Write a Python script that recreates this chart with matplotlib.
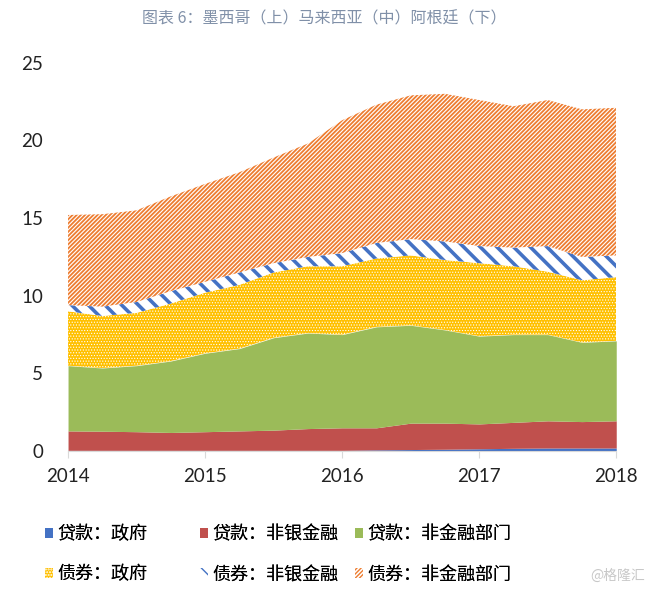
import numpy as np
import matplotlib
matplotlib.use("Agg")
import matplotlib.pyplot as plt
from matplotlib.patches import Patch

plt.rcParams['font.family'] = ['Lato', 'Noto Sans CJK SC', 'DejaVu Sans']

# quarterly points, 2014Q1 .. 2018Q1
x = 2014 + 0.25 * np.arange(17)

loan_gov = [0.05, 0.05, 0.05, 0.05, 0.05, 0.05, 0.05, 0.05, 0.05,
            0.08, 0.10, 0.12, 0.15, 0.18, 0.20, 0.20, 0.20]
loan_nbfi = [1.25, 1.23, 1.20, 1.15, 1.20, 1.25, 1.30, 1.40, 1.45,
             1.42, 1.70, 1.68, 1.60, 1.67, 1.75, 1.70, 1.75]
loan_nfc = [4.20, 4.07, 4.25, 4.60, 5.05, 5.30, 5.95, 6.15, 6.00,
            6.50, 6.30, 6.00, 5.65, 5.65, 5.55, 5.10, 5.15]
bond_gov = [3.50, 3.35, 3.40, 3.70, 3.90, 4.10, 4.20, 4.30, 4.40,
            4.40, 4.50, 4.50, 4.70, 4.40, 4.05, 4.00, 4.10]
bond_nbfi = [0.40, 0.60, 0.70, 0.80, 0.70, 0.80, 0.60, 0.60, 0.85,
             1.00, 1.05, 1.20, 1.10, 1.20, 1.65, 1.50, 1.40]
bond_nfc = [5.80, 5.95, 5.90, 6.10, 6.30, 6.45, 6.80, 7.30, 8.55,
            8.90, 9.25, 9.50, 9.40, 9.10, 9.40, 9.50, 9.50]

labels = ['贷款：政府', '贷款：非银金融', '贷款：非金融部门',
          '债券：政府', '债券：非银金融', '债券：非金融部门']
title = '图表 6：墨西哥（上）马来西亚（中）阿根廷（下）'

# (face, hatch colour, hatch, hatch linewidth)
styles = [
    ('#4472C4', '#4472C4', None, 1.0),
    ('#C0504D', '#C0504D', None, 1.0),
    ('#9BBB59', '#9BBB59', None, 1.0),
    ('#FFC000', 'white', '......', 0.5),
    ('white', '#4472C4', '\\\\', 2.6),
    ('white', '#ED7D31', '////////', 1.3),
]

fig = plt.figure(figsize=(6.48, 5.92), dpi=100)
ax = fig.add_axes([0.105, 0.238, 0.846, 0.656])

series = [loan_gov, loan_nbfi, loan_nfc, bond_gov, bond_nbfi, bond_nfc]
tops = np.cumsum(np.array(series), axis=0)
bottom = np.zeros(len(x))
handles = []
for top, (fc, hc, hatch, hlw), lab in zip(tops, styles, labels):
    with plt.rc_context({'hatch.linewidth': hlw}):
        coll = ax.fill_between(x, bottom, top, facecolor=fc, edgecolor=hc,
                               hatch=hatch, linewidth=0)
        if hasattr(coll, 'set_hatch_linewidth'):
            coll.set_hatch_linewidth(hlw)
        h = Patch(facecolor=fc, edgecolor=hc, hatch=hatch, linewidth=0, label=lab)
        if hasattr(h, 'set_hatch_linewidth'):
            h.set_hatch_linewidth(min(hlw, 1.5))
    handles.append(h)
    bottom = top

ax.set_xlim(2014, 2018)
ax.set_ylim(0, 25)
ax.set_xticks([2014, 2015, 2016, 2017, 2018])
ax.set_yticks([0, 5, 10, 15, 20, 25])
for s in ['top', 'right', 'left']:
    ax.spines[s].set_visible(False)
ax.spines['bottom'].set_color('#d9d9d9')
ax.tick_params(axis='y', length=0, pad=18, labelsize=13.5, labelcolor='#222222')
ax.tick_params(axis='x', length=5, color='#d9d9d9', pad=7, labelsize=13.5,
               labelcolor='#222222')

fig.text(0.5, 0.968, title, ha='center', va='center', fontsize=11.5,
         color='#8090a8', family=['Noto Sans CJK SC', 'DejaVu Sans'])

# one legend per column, rows: loans / bonds
col_x = [0.069, 0.308, 0.548]
for i, cx in enumerate(col_x):
    leg = fig.legend(handles=[handles[i], handles[i + 3]], loc='upper left',
                     bbox_to_anchor=(cx, 0.113), frameon=False,
                     prop={'family': 'Noto Sans CJK SC', 'size': 13},
                     handlelength=0.45, handleheight=0.45, handletextpad=0.25,
                     labelspacing=1.25, borderpad=0, borderaxespad=0)
    fig.add_artist(leg)

fig.text(0.995, 0.028, '@格隆汇', ha='right', va='center', fontsize=10,
         color='#c8c8c8', family=['Noto Sans CJK SC', 'DejaVu Sans'])

fig.savefig('out.png', dpi=100)
